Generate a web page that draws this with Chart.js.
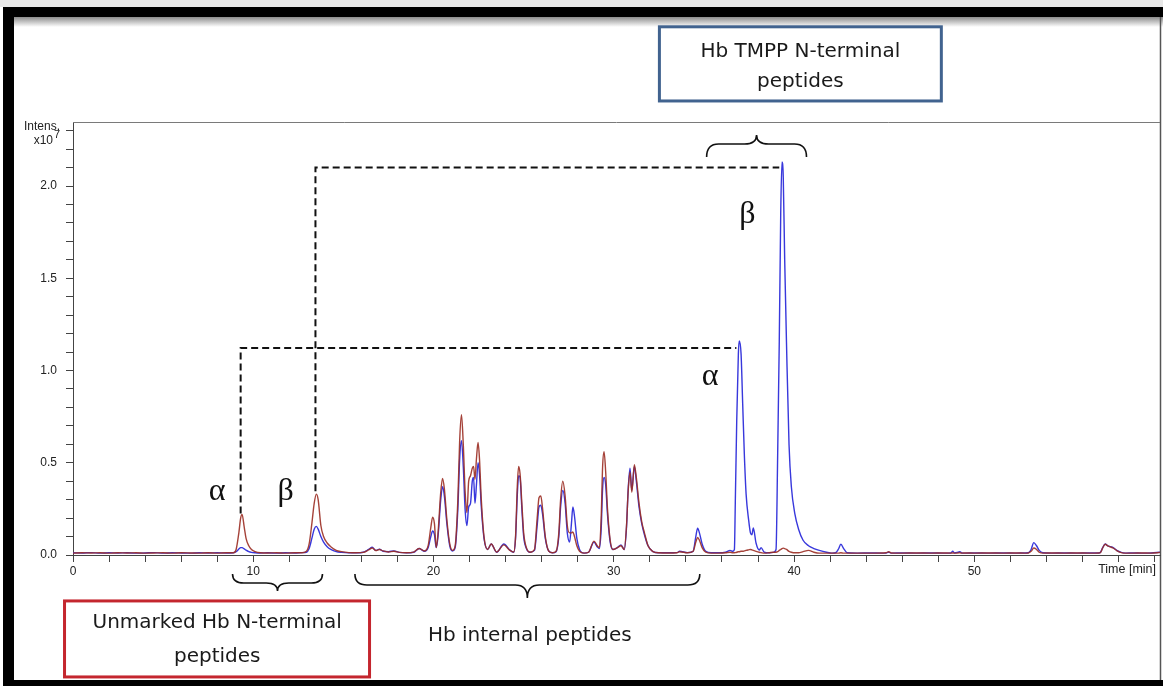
<!DOCTYPE html>
<html><head><meta charset="utf-8">
<script src="https://cdn.jsdelivr.net/npm/chart.js@4.4.1/dist/chart.umd.min.js"></script>
<style>
html,body{margin:0;padding:0;background:#fff;}
#wrap{position:relative;width:1163px;height:686px;overflow:hidden;}
canvas{display:block;}
</style></head><body>
<div id="wrap"><canvas id="c" width="1163" height="686"></canvas></div>
<script>
// Retention time (min)
const times = [
  0,0.5,1,1.5,2,2.5,3,3.5,4,4.5,5,5.5,6,6.5,7,7.5,8,8.5,
  8.9,9.05,9.2,9.3,9.38,9.5,9.6,9.75,9.9,10.1,10.4,
  10.8,11.3,11.8,12.3,12.7,
  12.95,13.1,13.25,13.38,13.5,13.6,13.75,13.9,14.1,14.3,14.6,14.9,15.3,
  15.7,16.1,16.4,16.6,16.8,17.0,17.2,17.5,17.8,18.1,18.5,18.9,19.2,19.5,
  19.7,19.85,19.95,20.05,20.15,20.25,20.4,20.5,20.6,20.75,20.9,21.05,21.2,21.35,21.45,21.55,21.65,21.75,21.85,21.95,22.05,22.15,22.22,22.3,22.38,22.47,22.55,22.65,22.8,23.0,
  23.2,23.5,23.9,24.2,24.45,
  24.55,24.65,24.72,24.8,24.9,25.0,25.15,25.35,
  25.6,25.75,25.85,25.95,26.05,26.2,26.4,26.6,
  26.8,26.95,27.05,27.17,27.3,27.42,27.55,27.65,27.73,27.82,27.95,28.1,28.35,
  28.6,28.9,29.08,29.2,29.3,29.38,29.46,29.55,29.65,29.8,29.95,
  30.2,30.4,30.58,30.7,30.8,30.9,31.0,31.14,31.25,31.4,31.55,31.7,31.9,32.15,32.5,
  33.0,33.5,33.65,34.1,
  34.4,34.55,34.65,34.75,34.9,35.1,35.4,
  35.8,36.2,36.45,36.6,
  36.69,36.74,36.82,36.91,36.96,37.06,37.15,37.24,37.34,37.48,37.58,37.66,37.74,37.89,38.07,38.17,38.35,
  38.6,38.85,
  39.0,39.09,39.18,39.26,39.33,39.4,39.48,39.58,39.72,39.85,40.05,40.25,40.5,40.8,41.1,41.4,41.8,42.1,
  42.3,42.45,42.6,42.75,42.95,
  43.5,44.2,44.9,45.1,45.25,45.4,46.0,46.8,47.6,48.3,48.7,48.8,48.9,49.1,49.2,49.3,49.5,50.0,50.8,51.6,52.3,52.8,
  53.0,53.15,53.3,53.45,53.6,53.8,
  54.3,55.0,55.7,56.4,56.9,
  57.0,57.12,57.26,57.4,57.55,57.7,57.9,58.15,58.4,
  58.8,59.3,59.8,60.3
];
// Intensity x10^7, blue trace
const blueIntensity = [
  .012,.011,.013,.010,.012,.011,.012,.010,.011,.013,.010,.012,.011,.010,.012,.011,.012,.011,
  .012,.018,.032,.040,.040,.033,.026,.018,.014,.012,.011,
  .012,.010,.012,.011,.013,
  .015,.035,.09,.14,.155,.14,.10,.07,.045,.03,.018,.014,.012,
  .012,.015,.03,.042,.025,.032,.02,.018,.022,.014,.012,.015,.035,.02,
  .04,.10,.13,.11,.04,.10,.30,.37,.32,.16,.05,.022,.04,.25,.52,.62,.48,.25,.16,.26,.28,.40,.42,.28,.38,.50,.44,.26,.09,.03,
  .06,.015,.06,.03,.015,
  .09,.33,.43,.42,.25,.10,.035,.015,
  .025,.16,.26,.27,.22,.09,.02,.012,
  .018,.10,.26,.35,.28,.12,.07,.17,.26,.21,.09,.03,.01,
  .015,.07,.045,.035,.14,.36,.42,.38,.22,.07,.03,
  .04,.055,.03,.14,.36,.47,.35,.48,.40,.26,.17,.11,.05,.02,.012,
  .012,.013,.02,.013,
  .02,.10,.145,.12,.06,.02,.012,
  .012,.015,.025,.02,
  .03,.28,.73,1.09,1.16,1.09,.82,.55,.33,.19,.12,.11,.146,.065,.027,.04,.015,
  .012,.014,
  .03,.54,1.16,1.85,2.13,2.05,1.6,1.15,.6,.37,.22,.14,.08,.05,.035,.025,.015,.01,
  .012,.03,.058,.035,.012,
  .01,.011,.01,.011,.015,.01,.011,.01,.011,.01,.011,.02,.011,.015,.018,.011,.01,.011,.01,.011,.01,.011,
  .012,.03,.067,.05,.025,.012,
  .01,.011,.01,.011,.011,
  .015,.04,.06,.05,.045,.04,.025,.014,.01,
  .011,.01,.011,.015
];
// Intensity x10^7, red trace
const redIntensity = [
  .010,.012,.011,.012,.010,.012,.011,.012,.010,.011,.012,.010,.012,.011,.010,.012,.010,.012,
  .012,.03,.12,.20,.22,.15,.09,.05,.03,.018,.012,
  .011,.012,.010,.012,.012,
  .02,.06,.17,.28,.33,.30,.16,.10,.065,.045,.025,.018,.013,
  .012,.014,.028,.038,.024,.03,.022,.016,.02,.014,.012,.016,.035,.022,
  .05,.15,.205,.17,.04,.12,.34,.415,.36,.18,.06,.025,.05,.30,.62,.76,.60,.35,.23,.40,.43,.47,.48,.41,.52,.61,.52,.30,.10,.03,
  .06,.016,.055,.028,.016,
  .10,.38,.48,.44,.28,.12,.04,.015,
  .03,.20,.31,.32,.25,.10,.02,.012,
  .02,.12,.30,.40,.32,.16,.12,.12,.125,.10,.05,.02,.01,
  .015,.075,.05,.04,.20,.48,.56,.45,.25,.08,.03,
  .04,.05,.03,.15,.35,.45,.34,.49,.42,.28,.18,.12,.05,.02,.012,
  .011,.012,.018,.012,
  .02,.07,.095,.08,.04,.015,.01,
  .01,.012,.015,.012,
  .012,.013,.015,.018,.018,.02,.02,.022,.025,.028,.03,.028,.025,.02,.015,.013,.01,
  .012,.015,
  .015,.018,.025,.03,.035,.037,.035,.03,.02,.015,.012,.012,.018,.025,.015,.01,.01,.01,
  .01,.01,.012,.01,.01,
  .01,.01,.011,.012,.018,.011,.01,.011,.01,.011,.01,.011,.01,.011,.012,.01,.011,.01,.011,.01,.011,.01,
  .011,.02,.038,.03,.015,.01,
  .011,.01,.011,.01,.011,
  .014,.038,.058,.05,.044,.038,.024,.013,.01,
  .01,.011,.01,.014
];
const xTickLabels = [0, 10, 20, 30, 40, 50];
const yTickLabels = [0.0, 0.5, 1.0, 1.5, 2.0];

const bluePts = times.map((t, i) => ({x: t, y: blueIntensity[i]}));
const redPts = times.map((t, i) => ({x: t, y: redIntensity[i]}));

function brace(ctx, x1, x2, y, endH, tipH, dir) {
  const xm = (x1 + x2) / 2, r = Math.min(12, (x2 - x1) / 8);
  ctx.beginPath();
  ctx.moveTo(x1, y - dir * endH);
  ctx.quadraticCurveTo(x1, y, x1 + r, y);
  ctx.lineTo(xm - r, y);
  ctx.quadraticCurveTo(xm, y, xm, y + dir * tipH);
  ctx.quadraticCurveTo(xm, y, xm + r, y);
  ctx.lineTo(x2 - r, y);
  ctx.quadraticCurveTo(x2, y, x2, y - dir * endH);
  ctx.stroke();
}

const decor = {
  id: 'decor',
  beforeDraw(chart) {
    const ctx = chart.ctx, W = chart.width, H = chart.height;
    ctx.save();
    ctx.fillStyle = '#fff';
    ctx.fillRect(0, 0, W, H);
    ctx.fillStyle = '#e8e8e8';
    ctx.fillRect(0, 0, W, 7);
    const g = ctx.createLinearGradient(0, 17, 0, 27);
    g.addColorStop(0, '#8c8c8c');
    g.addColorStop(1, '#ffffff');
    ctx.fillStyle = g;
    ctx.fillRect(14, 17, W - 14, 10);
    ctx.fillStyle = '#000';
    ctx.fillRect(3, 7, W - 3, 10);
    ctx.fillRect(3, 7, 11, H - 7);
    ctx.fillRect(3, 680, W - 3, 6);
    ctx.strokeStyle = '#555';
    ctx.lineWidth = 1.5;
    ctx.beginPath();
    ctx.moveTo(W - 2.5, 17);
    ctx.lineTo(W - 2.5, 680);
    ctx.stroke();
    ctx.restore();
  },
  afterDraw(chart) {
    const ctx = chart.ctx, a = chart.chartArea;
    const sx = chart.scales.x, sy = chart.scales.y;
    const X = t => sx.getPixelForValue(t), Y = v => sy.getPixelForValue(v);
    ctx.save();
    // plot frame (top)
    ctx.strokeStyle = '#7a7a7a';
    ctx.lineWidth = 1;
    ctx.beginPath();
    ctx.moveTo(a.left, Math.round(a.top) + 0.5);
    ctx.lineTo(Math.round(a.right), Math.round(a.top) + 0.5);
    ctx.stroke();

    // axis captions
    ctx.fillStyle = '#222';
    ctx.font = '12px "Liberation Sans", Arial, sans-serif';
    ctx.textAlign = 'right';
    ctx.textBaseline = 'middle';
    ctx.fillText('Intens.', a.left - 13, a.top + 5);
    ctx.fillText('x10', a.left - 20, a.top + 19);
    ctx.font = '11px "Liberation Sans", Arial, sans-serif';
    ctx.fillText('7', a.left - 13, a.top + 13);
    ctx.font = '12.5px "Liberation Sans", Arial, sans-serif';
    ctx.fillText('Time [min]', a.right - 4, a.bottom + 15);

    // dashed connector lines
    ctx.strokeStyle = '#111';
    ctx.lineWidth = 2;
    ctx.setLineDash([7, 4]);
    ctx.beginPath();
    ctx.moveTo(X(9.3), Y(0.225)); ctx.lineTo(X(9.3), Y(1.122)); ctx.lineTo(X(36.8), Y(1.122));
    ctx.moveTo(X(13.45), Y(0.345)); ctx.lineTo(X(13.45), Y(2.10)); ctx.lineTo(X(39.18), Y(2.10));
    ctx.stroke();
    ctx.setLineDash([]);

    // greek labels
    ctx.fillStyle = '#111';
    ctx.font = '32px "Liberation Serif", "DejaVu Serif", serif';
    ctx.textAlign = 'center';
    ctx.textBaseline = 'alphabetic';
    ctx.fillText('\u03B1', X(7.99), Y(0.30));
    ctx.fillText('\u03B2', X(11.79), Y(0.30));
    ctx.fillText('\u03B1', X(35.35), Y(0.92));
    ctx.fillText('\u03B2', X(37.41), Y(1.80));

    // braces
    ctx.strokeStyle = '#111';
    ctx.lineWidth = 1.6;
    brace(ctx, X(8.85), X(13.84), Y(-0.152), 9, 8, 1);
    brace(ctx, X(15.64), X(34.77), Y(-0.163), 11, 13, 1);
    brace(ctx, X(35.15), X(40.69), Y(2.228), 13, 9, -1);

    // boxes
    ctx.lineWidth = 3;
    ctx.strokeStyle = '#41638f';
    ctx.strokeRect(X(32.53), Y(2.863), X(48.17) - X(32.53), Y(2.461) - Y(2.863));
    ctx.strokeStyle = '#c4262e';
    ctx.strokeRect(X(-0.47), Y(-0.249), X(16.45) - X(-0.47), Y(-0.661) - Y(-0.249));

    ctx.fillStyle = '#1a1a1a';
    ctx.font = '20px "DejaVu Sans", sans-serif';
    ctx.textAlign = 'center';
    ctx.textBaseline = 'middle';
    ctx.fillText('Hb TMPP N-terminal', X(40.35), Y(2.728));
    ctx.fillText('peptides', X(40.35), Y(2.565));
    ctx.fillText('Unmarked Hb N-terminal', X(8.0), Y(-0.369));
    ctx.fillText('peptides', X(8.0), Y(-0.553));
    ctx.fillText('Hb internal peptides', X(25.34), Y(-0.439));
    ctx.restore();
  }
};

const tickFont = {family: '"Liberation Sans", Arial, sans-serif', size: 12};

new Chart(document.getElementById('c'), {
  type: 'line',
  data: {
    datasets: [
      {label: 'red', data: redPts, borderColor: 'rgba(155,45,35,0.9)', borderWidth: 1.4, pointRadius: 0, cubicInterpolationMode: 'monotone', fill: false},
      {label: 'blue', data: bluePts, borderColor: '#3838dc', borderWidth: 1.4, pointRadius: 0, cubicInterpolationMode: 'monotone', fill: false}
    ]
  },
  options: {
    responsive: false,
    devicePixelRatio: 1,
    animation: false,
    events: [],
    layout: {padding: {left: 0, top: 122, right: 3, bottom: 0}},
    plugins: {legend: {display: false}, tooltip: {enabled: false}, title: {display: false}},
    scales: {
      x: {
        type: 'linear', min: 0, max: 60.3,
        afterFit(s) { s.height = 131; },
        border: {display: true, color: '#444', width: 1},
        grid: {drawOnChartArea: false, drawTicks: true, tickLength: 7, color: '#444'},
        ticks: {
          stepSize: 2, includeBounds: false, autoSkip: false, maxRotation: 0, padding: 2,
          color: '#222', font: tickFont,
          callback: v => xTickLabels.includes(v) ? String(v) : ''
        }
      },
      y: {
        type: 'linear', min: 0, max: 2.347,
        afterFit(s) { s.width = 73; },
        border: {display: true, color: '#444', width: 1},
        grid: {drawOnChartArea: false, drawTicks: true, tickLength: 7, color: '#444'},
        ticks: {
          stepSize: 0.1, includeBounds: false, autoSkip: false, padding: 9,
          color: '#222', font: tickFont,
          callback: v => yTickLabels.some(l => Math.abs(l - v) < 1e-6) ? v.toFixed(1) : ''
        }
      }
    }
  },
  plugins: [decor]
});
</script>
</body></html>
